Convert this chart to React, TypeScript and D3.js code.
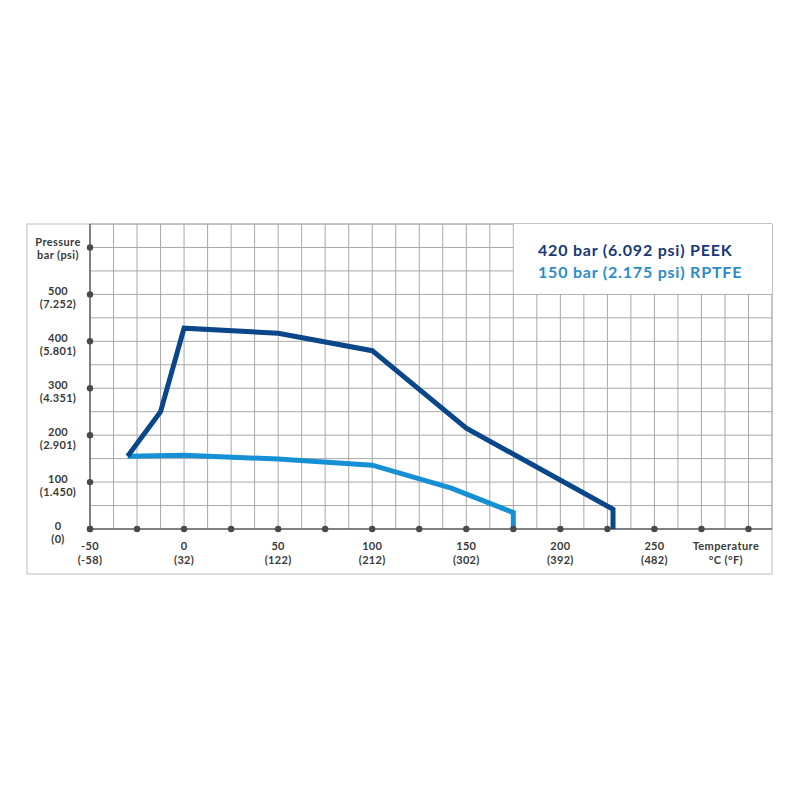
import React from "react";
import * as d3 from "d3";

const peekTemp = [-30, -12.5, 0, 50, 100, 150, 228, 228];
const peekBar = [155, 250, 428, 417, 380, 215, 42, 0];
const rptfeTemp = [-30, 0, 50, 100, 142, 175, 175];
const rptfeBar = [155, 157, 149, 136, 87, 35, 0];

const xTickC = [-50, 0, 50, 100, 150, 200, 250];
const xTickF = ["(-58)", "(32)", "(122)", "(212)", "(302)", "(392)", "(482)"];
const yTickBar = [0, 100, 200, 300, 400, 500];
const yTickPsi = ["(0)", "(1.450)", "(2.901)", "(4.351)", "(5.801)", "(7.252)"];
const xDots = d3.range(-50, 301, 25);
const yDots = d3.range(0, 601, 100);
const xGrid = d3.range(-50, 312.6, 12.5);
const yGrid = d3.range(0, 651, 50);

const legendLines = ["420 bar (6.092 psi) PEEK", "150 bar (2.175 psi) RPTFE"];

const W = 800, H = 800;
const PEEK = "#0a468a";
const RPTFE = "#1690d4";
const TXT = "#3a3a3a";
const GRID = "#a8a8a8";
const FONT = "Lato, 'Open Sans', sans-serif";

export default function App() {
  const x = d3.scaleLinear().domain([-50, 312.5]).range([90, 772]);
  const y = d3.scaleLinear().domain([0, 650]).range([529, 224]);
  const line = d3.line<[number, number]>().x((d) => x(d[0])).y((d) => y(d[1]));
  const peek = peekTemp.map((t, i) => [t, peekBar[i]] as [number, number]);
  const rptfe = rptfeTemp.map((t, i) => [t, rptfeBar[i]] as [number, number]);

  return (
    <svg width={W} height={H} style={{ position: "fixed", left: 0, top: 0, background: "#fff" }}>
      <rect x={0} y={0} width={W} height={H} fill="#fff" />
      {/* frame */}
      <rect x={27} y={224} width={745} height={350} fill="none" stroke="#d2d2d2" strokeWidth={1.5} />
      {/* grid */}
      {xGrid.map((v) => (
        <line key={"gx" + v} x1={x(v)} x2={x(v)} y1={y(650)} y2={y(0)} stroke={GRID} strokeWidth={1} />
      ))}
      {yGrid.map((v) => (
        <line key={"gy" + v} x1={x(-50)} x2={x(312.5)} y1={y(v)} y2={y(v)} stroke={GRID} strokeWidth={1} />
      ))}
      {/* legend box */}
      <rect x={x(175) + 0.5} y={y(650)} width={x(312.5) - x(175) - 0.5} height={y(500) - y(650) - 0.5} fill="#fff" />
      {legendLines.map((t, i) => (
        <text key={t} x={538} y={256 + i * 22} fontFamily={FONT} fontWeight={700} fontSize={16}
          letterSpacing={0.8} fill={i === 0 ? "#17397a" : "#2a8ccb"}>{t}</text>
      ))}
      {/* axes */}
      <line x1={x(-50)} x2={x(-50)} y1={y(650)} y2={y(0)} stroke="#666" strokeWidth={1.5} />
      <line x1={x(-50)} x2={x(312.5)} y1={y(0)} y2={y(0)} stroke="#666" strokeWidth={1.5} />
      {/* series */}
      <path d={line(rptfe) || ""} fill="none" stroke={RPTFE} strokeWidth={5} strokeLinejoin="miter" />
      <path d={line(peek) || ""} fill="none" stroke={PEEK} strokeWidth={5} strokeLinejoin="miter" />
      {/* dots */}
      {xDots.map((v) => (
        <circle key={"dx" + v} cx={x(v)} cy={y(0)} r={3.2} fill="#4a4a4a" />
      ))}
      {yDots.map((v) => (
        <circle key={"dy" + v} cx={x(-50)} cy={y(v)} r={3.2} fill="#4a4a4a" />
      ))}
      {/* y labels */}
      {yTickBar.map((v, i) => (
        <text key={"yl" + v} x={58} fontFamily={FONT} fontWeight={700} fontSize={11} fill={TXT} textAnchor="middle" letterSpacing={0.3}>
          <tspan x={58} y={y(v) + 1}>{v}</tspan>
          <tspan x={58} y={y(v) + 14}>{yTickPsi[i]}</tspan>
        </text>
      ))}
      <text fontFamily={FONT} fontWeight={700} fontSize={11} fill={TXT} textAnchor="middle" letterSpacing={0.4}>
        <tspan x={58} y={y(600) - 1}>Pressure</tspan>
        <tspan x={58} y={y(600) + 12}>bar (psi)</tspan>
      </text>
      {/* x labels */}
      {xTickC.map((v, i) => (
        <text key={"xl" + v} fontFamily={FONT} fontWeight={700} fontSize={11} fill={TXT} textAnchor="middle" letterSpacing={0.3}>
          <tspan x={x(v)} y={y(0) + 21}>{v}</tspan>
          <tspan x={x(v)} y={y(0) + 35}>{xTickF[i]}</tspan>
        </text>
      ))}
      <text fontFamily={FONT} fontWeight={700} fontSize={11} fill={TXT} textAnchor="middle" letterSpacing={0.4}>
        <tspan x={x(288)} y={y(0) + 21}>Temperature</tspan>
        <tspan x={x(288)} y={y(0) + 35}>°C (°F)</tspan>
      </text>
    </svg>
  );
}
